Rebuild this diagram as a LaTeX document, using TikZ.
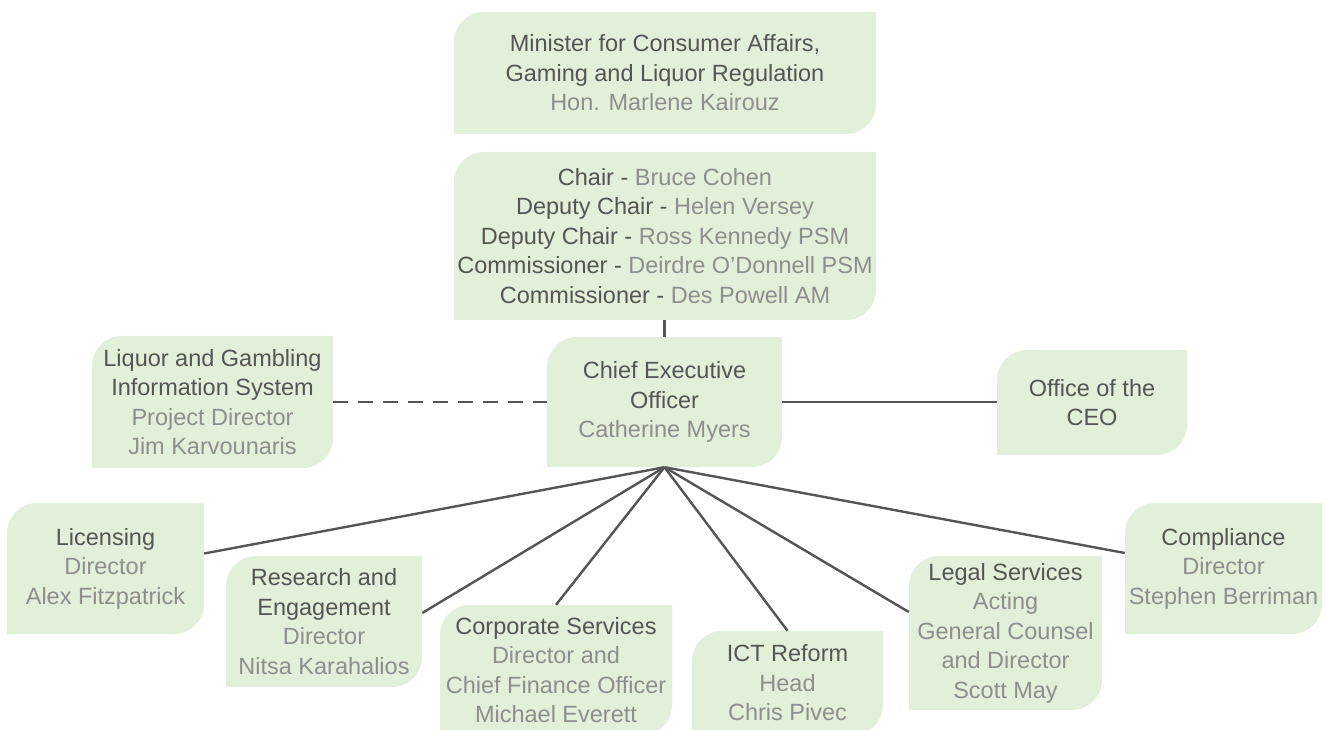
\documentclass[tikz,border=0pt]{standalone}
\usepackage{fontspec}
\setmainfont{Liberation Sans}
\definecolor{boxfill}{HTML}{E2EFD9}
\definecolor{darkt}{HTML}{555555}
\definecolor{lightt}{HTML}{8E8E8E}
\definecolor{linec}{HTML}{555555}
\newcommand\lt[1]{\textcolor{lightt}{#1}}
\newcommand\gbox[6]{%
 \pgfmathsetmacro\gtop{729-#3}\pgfmathsetmacro\gbot{729-#5}%
 \pgfmathsetmacro\gw{#4-#2}\pgfmathsetmacro\gh{#5-#3}%
 \pgfmathsetmacro\gcx{(#2+#4)/2}\pgfmathsetmacro\gcy{729-(#3+#5)/2}%
 \fill[boxfill] (#2,\gbot) -- (#2,\gtop-30) arc[start angle=180,end angle=90,radius=30] -- (#4,\gtop) -- (#4,\gbot+30) arc[start angle=0,end angle=-90,radius=30] -- cycle;
 \node[txt,minimum width=\gw pt,minimum height=\gh pt] (#1) at (\gcx,\gcy) {#6};}
\begin{document}
\begin{tikzpicture}[x=1pt,y=1pt,
  txt/.style={inner sep=0pt,align=center,text=darkt,font=\fontsize{23.5}{29.5}\selectfont},
  conn/.style={draw=linec,line width=2.4pt},
  dconn/.style={conn,dash pattern=on 15pt off 10pt}]
\useasboundingbox (0,0) rectangle (1325,729);
\clip (0,0) rectangle (1325,729);
\gbox{min}{454}{12}{876}{134}{Minister for Consumer Affairs,\\Gaming and Liquor Regulation\\\lt{Hon. Marlene Kairouz}}
\gbox{board}{454}{152}{876}{320}{Chair - \lt{Bruce Cohen}\\Deputy Chair - \lt{Helen Versey}\\Deputy Chair - \lt{Ross Kennedy PSM}\\Commissioner - \lt{Deirdre O'Donnell PSM}\\Commissioner - \lt{Des Powell AM}}
\gbox{ceo}{547}{337}{782}{467}{Chief Executive\\Officer\\\lt{Catherine Myers}}
\gbox{lagis}{92}{336}{333}{468}{Liquor and Gambling\\Information System\\\lt{Project Director}\\\lt{Jim Karvounaris}}
\gbox{office}{997}{350}{1187}{455}{Office of the\\CEO}
\gbox{lic}{7}{503}{204}{634}{Licensing\\\lt{Director}\\\lt{Alex Fitzpatrick}}
\gbox{res}{226}{556}{422}{687}{Research and\\Engagement\\\lt{Director}\\\lt{Nitsa Karahalios}}
\gbox{corp}{440}{605}{672}{735}{Corporate Services\\\lt{Director and}\\\lt{Chief Finance Officer}\\\lt{Michael Everett}}
\gbox{ict}{692}{631}{883}{735}{ICT Reform\\\lt{Head}\\\lt{Chris Pivec}}
\gbox{legal}{909}{556}{1102}{710}{Legal Services\\\lt{Acting}\\\lt{General Counsel}\\\lt{and Director}\\\lt{Scott May}}
\gbox{comp}{1125}{503}{1322}{634}{Compliance\\\lt{Director}\\\lt{Stephen Berriman}}
\draw[conn] (ceo.north) -- (ceo.north |- board.south);
\draw[dconn] (lagis.east) -- (lagis.east -| ceo.west);
\draw[conn] (ceo.east) -- (ceo.east -| office.west);
\draw[conn] (ceo.south) -- ([yshift=15pt]lic.east);
\draw[conn] (ceo.south) -- ([yshift=8.5pt]res.east);
\draw[conn] (ceo.south) -- (corp.north);
\draw[conn] (ceo.south) -- (ict.north);
\draw[conn] (ceo.south) -- ([yshift=21pt]legal.west);
\draw[conn] (ceo.south) -- ([yshift=15.5pt]comp.west);
\end{tikzpicture}
\end{document}
